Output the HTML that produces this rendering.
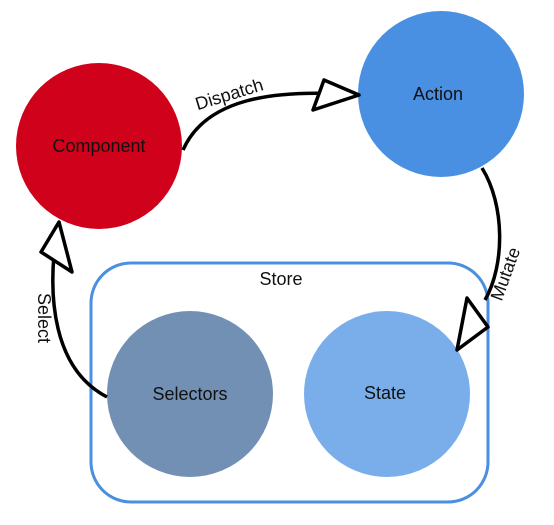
<!DOCTYPE html>
<html><head><meta charset="utf-8"><style>
html,body{margin:0;padding:0;background:#fff;width:554px;height:525px;overflow:hidden}
text{font-family:"Liberation Sans",sans-serif;font-size:18px;fill:#111}
</style></head><body>
<svg width="554" height="525" viewBox="0 0 554 525" xmlns="http://www.w3.org/2000/svg">
<rect x="91" y="263" width="397" height="239" rx="40" ry="40" fill="none" stroke="#4a8fe0" stroke-width="3"/>
<circle cx="99" cy="146" r="83" fill="#d0021b"/>
<circle cx="441" cy="94" r="83" fill="#4a90e2"/>
<circle cx="190" cy="394" r="83" fill="#7290b3"/>
<circle cx="387" cy="394" r="83" fill="#79aeea"/>
<text x="99" y="152" text-anchor="middle">Component</text>
<text x="438" y="100" text-anchor="middle">Action</text>
<text x="190" y="400" text-anchor="middle">Selectors</text>
<text x="385" y="399" text-anchor="middle">State</text>
<text x="281" y="285" text-anchor="middle">Store</text>
<g fill="none" stroke="#000" stroke-width="3.5" stroke-linejoin="round">
<path d="M183 150 C205 100 270 88 358 95"/>
<path d="M359 95 L324 80 L313 110 Z" fill="#fff"/>
<path d="M482 168 C505 205 505 265 485 300"/>
<path d="M457 350 L467 298 L488 327 Z" fill="#fff"/>
<path d="M107 397 C55 370 45 300 58 224"/>
<path d="M59 222 L41 252 L72 272 Z" fill="#fff"/>
</g>
<text x="231" y="100" text-anchor="middle" transform="rotate(-17 231 100)">Dispatch</text>
<text x="511" y="276" text-anchor="middle" transform="rotate(-70 511 276)">Mutate</text>
<text x="38" y="318" text-anchor="middle" transform="rotate(90 38 318)">Select</text>
</svg>
</body></html>
